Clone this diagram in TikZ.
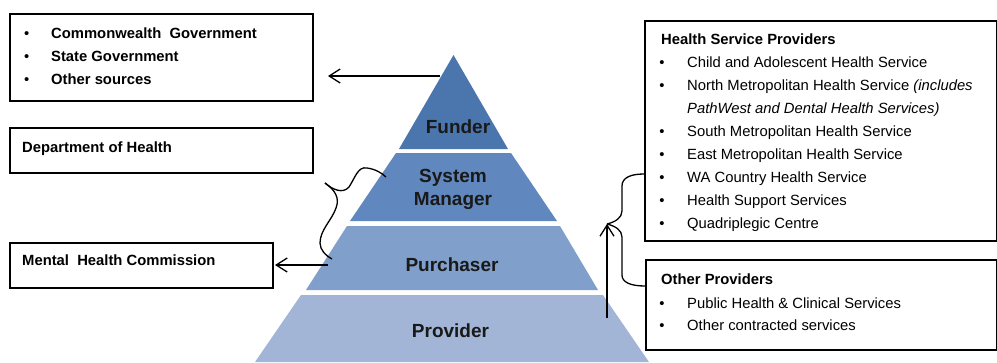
\documentclass[tikz,border=0pt]{standalone}
\usepackage{fontspec}
\setmainfont{Liberation Sans}
\usetikzlibrary{arrows.meta}
\definecolor{cfund}{RGB}{74,118,173}
\definecolor{csys}{RGB}{96,136,190}
\definecolor{cpur}{RGB}{128,159,203}
\definecolor{cprov}{RGB}{162,181,214}
\definecolor{ptext}{RGB}{25,25,25}
\begin{document}
\begin{tikzpicture}[x=1pt,y=-1pt,
  box/.style={draw=black, line width=1.6pt, rectangle, inner sep=0pt, anchor=north west},
  btxt/.style={font=\fontsize{14.8}{17}\selectfont\bfseries, anchor=base west, inner sep=0pt},
  rtxt/.style={font=\fontsize{14.8}{17}\selectfont, anchor=base west, inner sep=0pt},
  bul/.style={font=\fontsize{14.8}{17}\selectfont, anchor=base, inner sep=0pt},
  ptxt/.style={font=\fontsize{19}{21}\selectfont\bfseries, anchor=base, inner sep=0pt, text=ptext},
  arr/.style={-{Straight Barb[length=11pt,width=14pt]}, line width=1.3pt},
  bracestyle/.style={line width=1.3pt}
]
\useasboundingbox (0,0) rectangle (997,362);

% pyramid
\fill[cfund] (453.5,55) -- (508,149) -- (399,149) -- cycle;
\fill[csys] (396,153) -- (511,153) -- (557,221) -- (350,221) -- cycle;
\fill[cpur] (347,226) -- (560,226) -- (598,290) -- (306,290) -- cycle;
\fill[cprov] (301,295) -- (603,295) -- (649,362) -- (255,362) -- cycle;
\node[ptxt] (funder) at (458,133.3) {Funder};
\node[ptxt] (sys) at (453,182.7) {System};
\node[ptxt] (man) at (453,205.3) {Manager};
\node[ptxt] (pur) at (452,271.7) {Purchaser};
\node[ptxt] (prov) at (450.5,337.3) {Provider};

% left boxes
\node[box, minimum width=303pt, minimum height=87pt] (fund) at (9,13) {};
\node[bul] (fb1) at (26.7,38.3) {•};
\node[btxt] (ft1) at (51,38.3) {Commonwealth\ \ Government};
\node[bul] (fb2) at (26.7,61.3) {•};
\node[btxt] (ft2) at (51,61.3) {State Government};
\node[bul] (fb3) at (26.7,84.3) {•};
\node[btxt] (ft3) at (51,84.3) {Other sources};

\node[box, minimum width=303pt, minimum height=45pt] (dept) at (9,127) {};
\node[btxt] (deptt) at (22,152.3) {Department of Health};

\node[box, minimum width=263pt, minimum height=45pt] (mhc) at (9,242) {};
\node[btxt] (mhct) at (22,265.7) {Mental\ \ Health Commission};

% right boxes
\node[box, minimum width=352pt, minimum height=220pt] (hsp) at (644,20) {};
\node[btxt] (hspt) at (661,44.3) {Health Service Providers};
\node[bul] (hb1) at (662,67) {•};
\node[rtxt] (ht1) at (687,67) {Child and Adolescent Health Service};
\node[bul] (hb2) at (662,90) {•};
\node[rtxt] (ht2) at (687,90) {North Metropolitan Health Service \textit{(includes}};
\node[rtxt] (ht2b) at (687,113) {\textit{PathWest and Dental Health Services)}};
\node[bul] (hb3) at (662,136) {•};
\node[rtxt] (ht3) at (687,136) {South Metropolitan Health Service};
\node[bul] (hb4) at (662,159) {•};
\node[rtxt] (ht4) at (687,159) {East Metropolitan Health Service};
\node[bul] (hb5) at (662,182) {•};
\node[rtxt] (ht5) at (687,182) {WA Country Health Service};
\node[bul] (hb6) at (662,205) {•};
\node[rtxt] (ht6) at (687,205) {Health Support Services};
\node[bul] (hb7) at (662,228) {•};
\node[rtxt] (ht7) at (687,228) {Quadriplegic Centre};

\node[box, minimum width=351pt, minimum height=90pt] (oth) at (645,259) {};
\node[btxt] (otht) at (661,284.3) {Other Providers};
\node[bul] (ob1) at (662,308.3) {•};
\node[rtxt] (ot1) at (687,308.3) {Public Health \& Clinical Services};
\node[bul] (ob2) at (662,330.5) {•};
\node[rtxt] (ot2) at (687,330.5) {Other contracted services};

% connectors
\coordinate (fa1) at (440,76);
\coordinate (fa2) at (328,76);
\draw[arr] (fa1) -- (fa2);
\coordinate (ma1) at (328,265);
\coordinate (ma2) at (275,265);
\draw[arr] (ma1) -- (ma2);
\coordinate (ub) at (607,318);
\coordinate (ut) at (607,224);
\draw[arr] (ub) -- (ut);

% left brace
\coordinate (lbt) at (325,183);
\coordinate (lbu) at (386,177);
\coordinate (lbl) at (332,259);
\draw[bracestyle] (lbt) .. controls (333,190) and (343,194) .. (349,187)
  .. controls (355,178) and (358,166) .. (367,168)
  .. controls (375,169) and (382,173) .. (lbu);
\draw[bracestyle] (lbt) .. controls (335,190) and (340,198) .. (336,208)
  .. controls (332,220) and (320,230) .. (320,243)
  .. controls (320,250) and (326,256) .. (lbl);

% right brace
\coordinate (rbt) at (607,224);
\coordinate (rbu) at (644,174);
\coordinate (rbl) at (645,286);
\draw[bracestyle] (rbt) .. controls (615,222) and (622,218) .. (622,211) -- (622,186)
  .. controls (622,178) and (630,174) .. (rbu);
\draw[bracestyle] (rbt) .. controls (615,226) and (622,230) .. (622,237) -- (622,275)
  .. controls (622,282) and (630,286) .. (rbl);
\end{tikzpicture}
\end{document}
